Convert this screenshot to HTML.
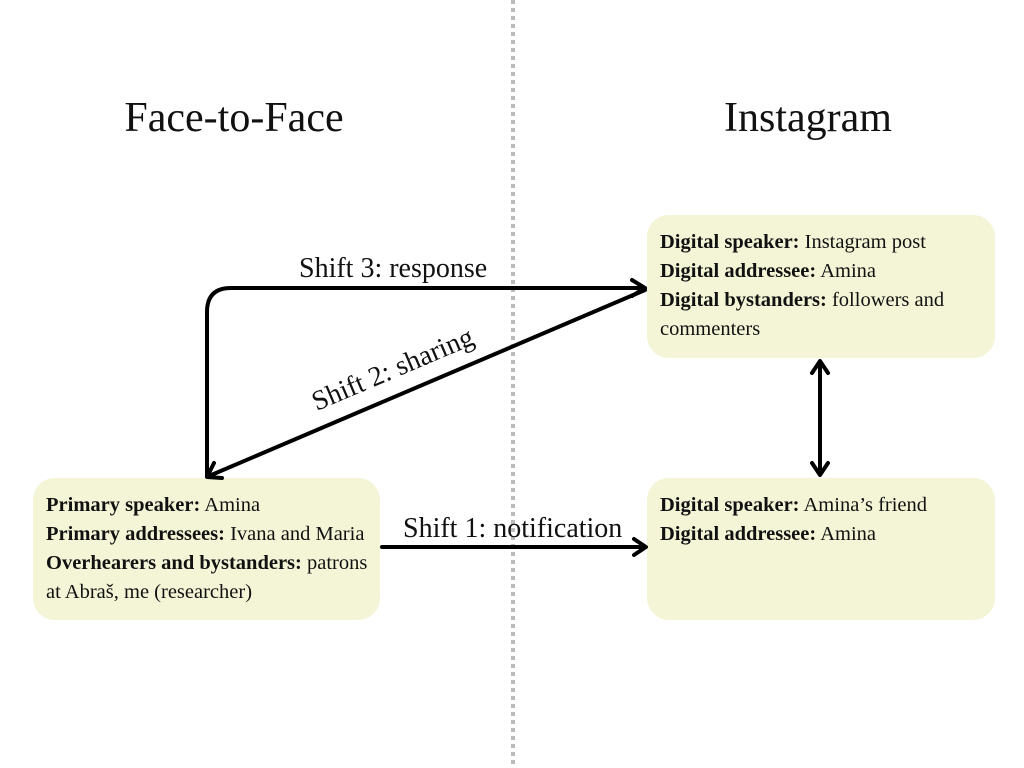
<!DOCTYPE html>
<html><head><meta charset="utf-8"><style>
body{margin:0;width:1024px;height:768px;background:#fff;position:relative;overflow:hidden;font-family:"Liberation Serif",serif;color:#111}
.box{position:absolute;background:#f4f4d6;border-radius:22px;box-sizing:border-box;padding:13px 0 0 13px;font-size:20.5px;line-height:29px;white-space:nowrap}
.t{position:absolute;font-size:42px;transform:translateX(-50%);white-space:nowrap}
.l{position:absolute;font-size:28px;white-space:nowrap}
b{font-weight:bold}
</style></head><body>
<svg width="1024" height="768" style="position:absolute;left:0;top:0">
<line x1="513" y1="0" x2="513" y2="768" stroke="#bbb" stroke-width="4" stroke-dasharray="4,4"/>
</svg>
<div class="t" style="left:234px;top:94px">Face-to-Face</div>
<div class="t" style="left:808px;top:94px">Instagram</div>
<div class="box" style="left:33px;top:478px;width:347px;height:142px"><b>Primary speaker:</b> Amina<br><b>Primary addressees:</b> Ivana and Maria<br><b>Overhearers and bystanders:</b> patrons<br>at Abraš, me (researcher)</div>
<div class="box" style="left:647px;top:215px;width:348px;height:143px"><b>Digital speaker:</b> Instagram post<br><b>Digital addressee:</b> Amina<br><b>Digital bystanders:</b> followers and<br>commenters</div>
<div class="box" style="left:647px;top:478px;width:348px;height:142px"><b>Digital speaker:</b> Amina’s friend<br><b>Digital addressee:</b> Amina</div>
<svg width="1024" height="768" style="position:absolute;left:0;top:0" fill="none" stroke="#000" stroke-width="4" stroke-linecap="round" stroke-linejoin="round">
<path d="M207 476 V312 Q207 288 231 288 H644"/>
<path d="M632 280 L645 288 L632 296"/>
<path d="M645 290 L209 476"/>
<path d="M214 463 L207 477 L222 478"/>
<path d="M382 547 H645"/>
<path d="M634 539 L646 547 L634 555"/>
<path d="M820 362 V474"/>
<path d="M812 373 L820 361 L828 373"/>
<path d="M812 463 L820 475 L828 463"/>
</svg>
<div class="l" style="left:299px;top:253px">Shift 3: response</div>
<div class="l" style="left:403px;top:513px">Shift 1: notification</div>
<div class="l" style="left:393px;top:370px;transform:translate(-50%,-50%) rotate(-23deg)">Shift 2: sharing</div>
</body></html>
